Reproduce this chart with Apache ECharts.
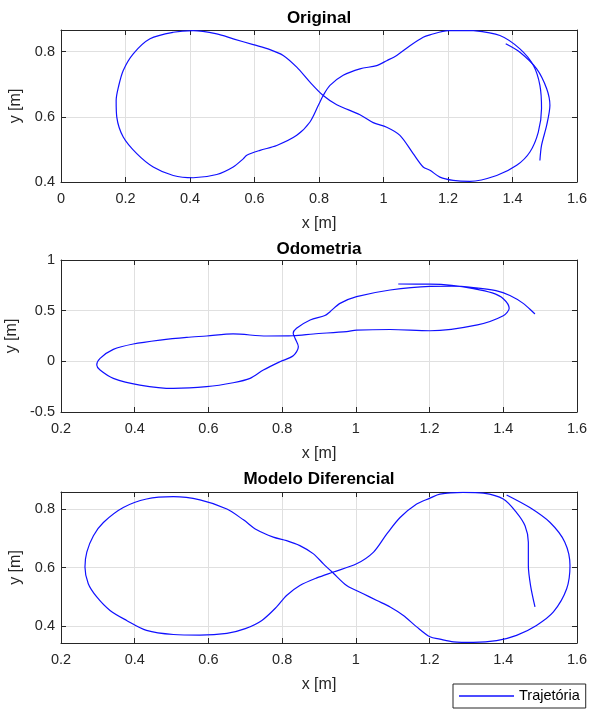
<!DOCTYPE html>
<html>
<head>
<meta charset="utf-8">
<script src="https://cdn.jsdelivr.net/npm/echarts@6/dist/echarts.min.js"></script>
<style>
  html, body { margin: 0; padding: 0; background: #fff; }
  #chart { width: 591px; height: 709px; }
</style>
</head>
<body>
<div id="chart"></div>
<script>
// Trajetória original (laço fechado + trecho externo à direita)
const origLoopX = [1.279, 1.201, 1.144, 1.123, 1.082, 1.041, 1.010, 0.979, 0.927, 0.875, 0.834, 0.813, 0.798, 0.772, 0.731, 0.669, 0.617, 0.576, 0.565, 0.534, 0.483, 0.410, 0.348, 0.286, 0.235, 0.193, 0.173, 0.171, 0.178, 0.193, 0.224, 0.276, 0.348, 0.410, 0.483, 0.534, 0.596, 0.648, 0.689, 0.731, 0.772, 0.813, 0.855, 0.927, 0.968, 1.010, 1.051, 1.092, 1.123, 1.144, 1.175, 1.216, 1.268, 1.351, 1.413, 1.454, 1.480, 1.490, 1.485, 1.465, 1.423, 1.361, 1.279];
const origLoopY = [0.864, 0.864, 0.851, 0.844, 0.818, 0.788, 0.772, 0.757, 0.747, 0.727, 0.696, 0.665, 0.635, 0.584, 0.543, 0.512, 0.497, 0.482, 0.471, 0.446, 0.423, 0.413, 0.420, 0.446, 0.487, 0.538, 0.599, 0.650, 0.691, 0.742, 0.793, 0.839, 0.859, 0.864, 0.854, 0.839, 0.821, 0.806, 0.788, 0.752, 0.706, 0.665, 0.637, 0.606, 0.582, 0.568, 0.543, 0.487, 0.446, 0.436, 0.415, 0.405, 0.402, 0.420, 0.451, 0.492, 0.553, 0.625, 0.696, 0.757, 0.808, 0.849, 0.864];
const origTailX = [1.379, 1.423, 1.475, 1.506, 1.516, 1.506, 1.490, 1.485];
const origTailY = [0.824, 0.798, 0.747, 0.686, 0.635, 0.574, 0.512, 0.466];

// Odometria
const odoX = [1.115, 1.201, 1.260, 1.319, 1.370, 1.400, 1.416, 1.400, 1.330, 1.201, 1.093, 1.002, 0.975, 0.885, 0.830, 0.758, 0.667, 0.595, 0.541, 0.469, 0.396, 0.342, 0.306, 0.297, 0.306, 0.342, 0.414, 0.505, 0.595, 0.667, 0.713, 0.749, 0.794, 0.830, 0.844, 0.835, 0.830, 0.839, 0.876, 0.916, 0.930, 0.957, 1.002, 1.093, 1.201, 1.260, 1.319, 1.380, 1.418, 1.454, 1.486];
const odoY = [0.763, 0.762, 0.750, 0.718, 0.675, 0.618, 0.523, 0.450, 0.360, 0.302, 0.314, 0.307, 0.294, 0.270, 0.253, 0.250, 0.270, 0.250, 0.237, 0.210, 0.171, 0.118, 0.029, -0.037, -0.086, -0.168, -0.234, -0.267, -0.250, -0.211, -0.168, -0.086, -0.004, 0.055, 0.144, 0.227, 0.276, 0.326, 0.408, 0.452, 0.490, 0.572, 0.638, 0.704, 0.740, 0.742, 0.728, 0.697, 0.650, 0.572, 0.467];

// Modelo diferencial
const modX = [1.409, 1.472, 1.527, 1.567, 1.581, 1.572, 1.536, 1.490, 1.436, 1.382, 1.319, 1.265, 1.228, 1.201, 1.165, 1.129, 1.093, 1.057, 1.020, 0.975, 0.939, 0.912, 0.885, 0.848, 0.812, 0.776, 0.731, 0.695, 0.650, 0.577, 0.505, 0.432, 0.369, 0.315, 0.288, 0.270, 0.265, 0.274, 0.297, 0.333, 0.378, 0.432, 0.505, 0.577, 0.650, 0.700, 0.745, 0.785, 0.812, 0.848, 0.894, 0.939, 1.002, 1.048, 1.084, 1.120, 1.165, 1.201, 1.228, 1.291, 1.346, 1.400, 1.436, 1.459, 1.468, 1.468, 1.474, 1.486];
const modY = [0.848, 0.805, 0.754, 0.687, 0.607, 0.528, 0.449, 0.403, 0.369, 0.351, 0.345, 0.347, 0.356, 0.364, 0.398, 0.437, 0.466, 0.488, 0.511, 0.539, 0.581, 0.613, 0.647, 0.675, 0.692, 0.704, 0.729, 0.763, 0.800, 0.831, 0.842, 0.834, 0.805, 0.754, 0.709, 0.653, 0.602, 0.545, 0.500, 0.454, 0.420, 0.386, 0.372, 0.370, 0.376, 0.392, 0.420, 0.466, 0.505, 0.539, 0.565, 0.585, 0.613, 0.653, 0.715, 0.771, 0.817, 0.837, 0.851, 0.857, 0.854, 0.834, 0.788, 0.743, 0.687, 0.607, 0.539, 0.466];

const titles = ['Original', 'Odometria', 'Modelo Diferencial'];
const xTicks = [[0, 0.2, 0.4, 0.6, 0.8, 1, 1.2, 1.4, 1.6], [0.2, 0.4, 0.6, 0.8, 1, 1.2, 1.4, 1.6], [0.2, 0.4, 0.6, 0.8, 1, 1.2, 1.4, 1.6]];
const yTicks = [[0.4, 0.6, 0.8], [-0.5, 0, 0.5, 1], [0.4, 0.6, 0.8]];
const xLims = [[0, 1.6], [0.2, 1.6], [0.2, 1.6]];
const yLims = [[0.4, 0.866], [-0.5, 1], [0.343, 0.858]];

function zip(xs, ys) {
  return xs.map((x, i) => [x, ys[i]]);
}

const font = 'Liberation Sans, Arial, sans-serif';
const dark = '#262626';
const grids = [
  {left: 61, top: 30, width: 516, height: 152},
  {left: 61, top: 260, width: 516, height: 152},
  {left: 61, top: 492, width: 516, height: 151}
];
const titleTops = [10, 241, 471];

let xAxes = [], yAxes = [];
grids.forEach((g, i) => {
  xAxes.push({
    type: 'value', gridIndex: i, position: 'bottom',
    min: xLims[i][0], max: xLims[i][1],
    name: 'x [m]', nameLocation: 'middle', nameGap: 34,
    nameTextStyle: {fontFamily: font, fontSize: 16, color: dark},
    axisLine: {show: true, onZero: false, lineStyle: {color: dark, width: 1}},
    axisTick: {show: true, inside: true, length: 5, lineStyle: {color: dark}, customValues: xTicks[i]},
    axisLabel: {fontFamily: font, fontSize: 14.5, color: dark, margin: 9, customValues: xTicks[i]},
    splitLine: {show: true, lineStyle: {color: '#e0e0e0', width: 1}}
  });
  xAxes.push({
    type: 'value', gridIndex: i, position: 'top',
    min: xLims[i][0], max: xLims[i][1],
    axisLine: {show: true, onZero: false, lineStyle: {color: dark, width: 1}},
    axisTick: {show: true, inside: true, length: 5, lineStyle: {color: dark}, customValues: xTicks[i]},
    axisLabel: {show: false},
    splitLine: {show: false}
  });
  yAxes.push({
    type: 'value', gridIndex: i, position: 'left',
    min: yLims[i][0], max: yLims[i][1],
    name: 'y [m]', nameLocation: 'middle', nameGap: 31,
    nameTextStyle: {fontFamily: font, fontSize: 16, color: dark},
    axisLine: {show: true, onZero: false, lineStyle: {color: dark, width: 1}},
    axisTick: {show: true, inside: true, length: 5, lineStyle: {color: dark}, customValues: yTicks[i]},
    axisLabel: {fontFamily: font, fontSize: 14.5, color: dark, margin: 6, customValues: yTicks[i]},
    splitLine: {show: true, lineStyle: {color: '#e0e0e0', width: 1}}
  });
  yAxes.push({
    type: 'value', gridIndex: i, position: 'right',
    min: yLims[i][0], max: yLims[i][1],
    axisLine: {show: true, onZero: false, lineStyle: {color: dark, width: 1}},
    axisTick: {show: true, inside: true, length: 5, lineStyle: {color: dark}, customValues: yTicks[i]},
    axisLabel: {show: false},
    splitLine: {show: false}
  });
});

function trace(name, data, i) {
  return {
    name: name,
    type: 'line',
    xAxisIndex: 2 * i,
    yAxisIndex: 2 * i,
    data: data,
    symbol: 'none',
    smooth: 0.3,
    clip: true,
    lineStyle: {color: '#1010ff', width: 1.2},
    itemStyle: {color: '#1010ff'}
  };
}

const option = {
  backgroundColor: '#fff',
  animation: false,
  title: titles.map((t, i) => ({
    text: t,
    left: 319,
    top: titleTops[i],
    padding: 0,
    textAlign: 'center',
    textStyle: {fontFamily: font, fontSize: 17, fontWeight: 'bold', color: '#000'}
  })),
  grid: grids.map(g => Object.assign({containLabel: false, outerBoundsMode: 'none'}, g)),
  xAxis: xAxes,
  yAxis: yAxes,
  legend: {
    data: ['Trajetória'],
    left: 453, top: 684,
    padding: [4, 6],
    icon: 'rect',
    itemWidth: 55, itemHeight: 1.3, itemGap: 0,
    borderColor: dark, borderWidth: 1, borderRadius: 0, backgroundColor: '#fff',
    textStyle: {fontFamily: font, fontSize: 14.5, color: '#000', lineHeight: 16}
  },
  series: [
    trace('orig', zip(origLoopX, origLoopY), 0),
    trace('orig', zip(origTailX, origTailY), 0),
    trace('odo', zip(odoX, odoY), 1),
    trace('Trajetória', zip(modX, modY), 2)
  ]
};

const chart = echarts.init(document.getElementById('chart'));
chart.setOption(option);
</script>
</body>
</html>
